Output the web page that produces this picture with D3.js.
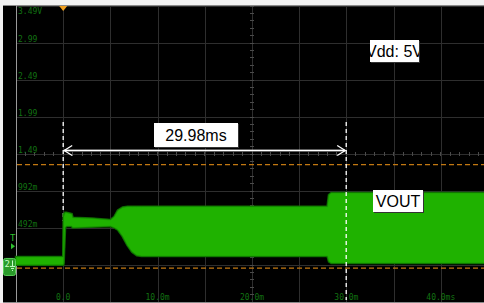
<!DOCTYPE html>
<html>
<head>
<meta charset="utf-8">
<script src="https://cdn.jsdelivr.net/npm/d3@7"></script>
<style>
  html, body { margin: 0; padding: 0; background: #f2f2f2; }
  svg { display: block; }
  .lbl { font-family: "DejaVu Sans Mono", monospace; font-size: 8px; fill: #127212; }
  .box text { font-family: "Liberation Sans", Arial, sans-serif; font-size: 16px; fill: #000; }
</style>
</head>
<body>
<svg id="scope" width="484" height="303"></svg>
<script>
// time base: 5 ms/div, channel 2: 0.5 V/div
const timeMs  = [-5, -0.1, 0, 0.05, 0.1, 0.2, 0.35, 0.9, 1.0, 3.0, 5.0, 5.4, 5.8, 6.3, 6.8, 7.3, 7.8, 8.3, 28.0, 28.15, 28.4, 45];
const upperV  = [0.10, 0.10, 0.10, 0.69, 0.66, 0.70, 0.70, 0.68, 0.63, 0.62, 0.60, 0.64, 0.73, 0.77, 0.78, 0.78, 0.78, 0.78, 0.78, 0.94, 0.965, 0.965];
const lowerV  = [-0.005, -0.005, -0.005, 0.02, 0.20, 0.50, 0.52, 0.52, 0.50, 0.51, 0.52, 0.50, 0.47, 0.38, 0.26, 0.17, 0.125, 0.114, 0.114, 0.04, 0.02, 0.02];

const voltTicks  = [3.4925, 2.9925, 2.4925, 1.9925, 1.4925, 0.9925, 0.4925, -0.0075];
const voltLabels = ["3.49V", "2.99", "2.49", "1.99", "1.49", "992m", "492m", "-7.5m"];
const timeTicks  = [0, 10, 20, 30, 40];
const timeLabels = ["0.0", "10.0m", "20.0m", "30.0m", "40.0ms"];

const cursorsMs = [0, 29.98];
const levelLinesV = [1.35, -0.05];
const trigLevelV = 0.26;

const svg = d3.select("#scope");
const W = 484, H = 303;
const x = d3.scaleLinear().domain([-5, 45]).range([16, 488]);
const y = d3.scaleLinear().domain([-0.5075, 3.4925]).range([302, 6]);

svg.append("rect").attr("x", 3).attr("y", 5).attr("width", W - 3).attr("height", 297).attr("fill", "#000");

// grid
const gx = svg.append("g").attr("transform", `translate(0,${y.range()[0]})`)
  .call(d3.axisBottom(x).tickValues(d3.range(-5, 46, 5)).tickSize(-(y.range()[0] - y.range()[1])).tickFormat(""));
gx.select(".domain").remove();
gx.selectAll("line").attr("stroke", "#2e2e2e").attr("shape-rendering", "crispEdges");

const gy = svg.append("g").attr("transform", `translate(${x(-5)},0)`)
  .call(d3.axisLeft(y).tickValues(d3.range(0, 9).map(i => -0.5075 + i * 0.5)).tickSize(-(x(45) - x(-5))).tickFormat(""));
gy.select(".domain").remove();
gy.selectAll("line").attr("stroke", "#2e2e2e").attr("shape-rendering", "crispEdges");

// minor ticks on center lines
const cx = x(20), cy = y(1.4925);
svg.append("g").selectAll("line").data(d3.range(-5, 45.01, 1)).join("line")
  .attr("x1", d => x(d)).attr("x2", d => x(d)).attr("y1", cy - 2).attr("y2", cy + 2)
  .attr("stroke", "#4a4a4a").attr("shape-rendering", "crispEdges");
svg.append("g").selectAll("line").data(d3.range(0, 41).map(i => -0.5075 + i * 0.1)).join("line")
  .attr("x1", cx - 2).attr("x2", cx + 2).attr("y1", d => y(d)).attr("y2", d => y(d))
  .attr("stroke", "#4a4a4a").attr("shape-rendering", "crispEdges");

// frame
svg.append("line").attr("x1", 3).attr("x2", W).attr("y1", 5.5).attr("y2", 5.5).attr("stroke", "#8a8a8a");
svg.append("line").attr("x1", 3).attr("x2", W).attr("y1", 302.5).attr("y2", 302.5).attr("stroke", "#8a8a8a");
svg.append("line").attr("x1", 16.5).attr("x2", 16.5).attr("y1", 5).attr("y2", 303).attr("stroke", "#9a9a9a");

// labels
svg.append("g").selectAll("text").data(voltTicks).join("text").attr("class", "lbl")
  .attr("x", 18).attr("y", (d, i) => i === 0 ? y(d) + 8 : y(d) - 1)
  .text((d, i) => voltLabels[i]);
svg.append("g").selectAll("text").data(timeTicks).join("text").attr("class", "lbl")
  .attr("x", d => x(d)).attr("y", 300).attr("text-anchor", "middle")
  .text((d, i) => timeLabels[i]);

// orange level lines
svg.append("g").selectAll("line").data(levelLinesV).join("line")
  .attr("x1", 17).attr("x2", W).attr("y1", d => y(d)).attr("y2", d => y(d))
  .attr("stroke", "#c27812").attr("stroke-width", 1.3).attr("stroke-dasharray", "5,3");

// left cursor (behind trace)
svg.append("line").attr("x1", x(cursorsMs[0])).attr("x2", x(cursorsMs[0]))
  .attr("y1", 122).attr("y2", 221).attr("stroke", "#fff").attr("stroke-width", 1.3).attr("stroke-dasharray", "4,3");

// trace envelope
const defs = svg.append("defs");
defs.append("filter").attr("id", "soft").append("feGaussianBlur").attr("stdDeviation", 0.7);
const pts = timeMs.map((t, i) => ({ t, hi: upperV[i], lo: lowerV[i] }));
const area = d3.area().x(d => x(d.t)).y0(d => y(d.lo)).y1(d => y(d.hi));
svg.append("path").datum(pts).attr("d", area).attr("fill", "#0f6a00").attr("stroke", "#0f6a00")
  .attr("stroke-width", 2.5).attr("filter", "url(#soft)");
svg.append("path").datum(pts).attr("d", area).attr("fill", "#1fb200").attr("stroke", "#1a9a00").attr("stroke-width", 0.6);

// right cursor
svg.append("line").attr("x1", x(cursorsMs[1])).attr("x2", x(cursorsMs[1]))
  .attr("y1", 122).attr("y2", 300).attr("stroke", "#fff").attr("stroke-width", 1.3).attr("stroke-dasharray", "4,3");

// delta arrow
const ay = 150.5, xa = x(cursorsMs[0]), xb = x(cursorsMs[1]);
svg.append("line").attr("x1", xa + 1).attr("x2", xb - 1).attr("y1", ay).attr("y2", ay).attr("stroke", "#bbb").attr("stroke-width", 2.2);
svg.append("line").attr("x1", xa + 1).attr("x2", xb - 1).attr("y1", ay).attr("y2", ay).attr("stroke", "#fff").attr("stroke-width", 1);
svg.append("path").attr("d", `M${xa + 9},${ay - 5} L${xa + 1},${ay} L${xa + 9},${ay + 5}`).attr("fill", "none").attr("stroke", "#fff").attr("stroke-width", 1.3);
svg.append("path").attr("d", `M${xb - 9},${ay - 5} L${xb - 1},${ay} L${xb - 9},${ay + 5}`).attr("fill", "none").attr("stroke", "#fff").attr("stroke-width", 1.3);

// trigger marker top
svg.append("path").attr("d", `M${x(0) - 4},6 L${x(0) + 4},6 L${x(0)},11 Z`).attr("fill", "#f0a020");

// trigger level / channel marker on left
const ty = y(trigLevelV);
svg.append("text").attr("x", 10).attr("y", ty - 4).attr("fill", "#2ec02e")
  .attr("font-family", "DejaVu Sans Mono, monospace").attr("font-size", 9).text("T");
svg.append("path").attr("d", `M11,${ty - 2} L15,${ty + 1} L11,${ty + 4} Z`).attr("fill", "#2ec02e");
const gy0 = y(0);
svg.append("rect").attr("x", 3.5).attr("y", gy0 - 6).attr("width", 12).attr("height", 17).attr("rx", 2)
  .attr("fill", "#2a9a2a").attr("stroke", "#5ad05a");
svg.append("text").attr("x", 4.5).attr("y", gy0 + 3).attr("fill", "#c8ffc8")
  .attr("font-family", "DejaVu Sans Mono, monospace").attr("font-size", 9).text("2");
svg.append("path").attr("d", `M12.5,${gy0 - 4} V${gy0 + 2} M10,${gy0 + 2} H15 M11,${gy0 + 4} H14 M12,${gy0 + 6} H13`)
  .attr("stroke", "#c8ffc8").attr("stroke-width", 1);

// text boxes
function box(x0, y0, w, h, txt, clipId) {
  const g = svg.append("g").attr("class", "box");
  g.append("rect").attr("x", x0 + 1).attr("y", y0 + 1).attr("width", w).attr("height", h).attr("fill", "#333");
  g.append("rect").attr("x", x0).attr("y", y0).attr("width", w).attr("height", h).attr("fill", "#fff");
  if (clipId) {
    defs.append("clipPath").attr("id", clipId).append("rect").attr("x", x0).attr("y", y0).attr("width", w).attr("height", h);
  }
  g.append("text").attr("x", x0 + w / 2).attr("y", y0 + h / 2 + 6).attr("text-anchor", "middle")
    .attr("clip-path", clipId ? `url(#${clipId})` : null).text(txt);
}
box(154, 123, 84, 24, "29.98ms");
box(370, 40, 49, 22, "Vdd: 5V", "vddclip");
box(373, 190, 50, 22, "VOUT");
</script>
</body>
</html>
